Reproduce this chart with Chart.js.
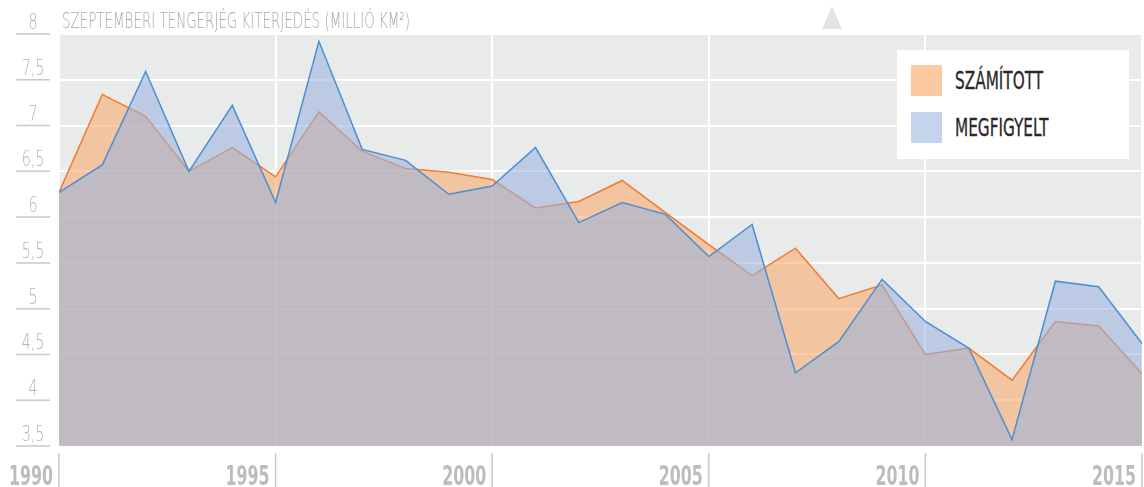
<!DOCTYPE html>
<html>
<head>
<meta charset="utf-8">
<script src="https://cdn.jsdelivr.net/npm/chart.js"></script>
<style>
  html, body { margin: 0; padding: 0; background: #fff; }
  #wrap { position: relative; width: 1144px; height: 487px; }
  #tri { position: absolute; left: 822px; top: 6px; width: 0; height: 0;
         border-left: 10px solid transparent; border-right: 10px solid transparent;
         border-bottom: 23px solid #e1e3e4; }
  #legend { position: absolute; left: 897px; top: 50px; width: 232px; height: 109px; background: #fff; }
  .item { position: absolute; left: 14px; height: 31px; }
  .sw { position: absolute; left: 0; top: 0; width: 31px; height: 31px; }
  .lbl { position: absolute; left: 44px; top: 1px; font-family: "DejaVu Sans Condensed", "DejaVu Sans", sans-serif;
         font-size: 25px; line-height: 30px; color: #2b2728; transform: scaleX(0.68); transform-origin: left center;
         white-space: nowrap; -webkit-text-stroke: 0.3px #2b2728; }
</style>
</head>
<body>
<div id="wrap">
  <canvas id="myChart" width="1144" height="487"></canvas>
  <div id="tri"></div>
  <div id="legend">
    <div class="item" style="top:15px"><div class="sw" style="background:#fccaa2"></div><div class="lbl">SZÁMÍTOTT</div></div>
    <div class="item" style="top:62px"><div class="sw" style="background:#c4d4ec"></div><div class="lbl">MEGFIGYELT</div></div>
  </div>
</div>
<script>
var years = [1990,1991,1992,1993,1994,1995,1996,1997,1998,1999,2000,2001,2002,2003,2004,2005,2006,2007,2008,2009,2010,2011,2012,2013,2014,2015];
var szamitott = [6.27,7.34,7.10,6.50,6.76,6.44,7.15,6.72,6.53,6.49,6.41,6.10,6.17,6.40,6.05,5.70,5.36,5.66,5.11,5.26,4.50,4.57,4.22,4.86,4.81,4.29];
var megfigyelt = [6.27,6.57,7.59,6.50,7.22,6.16,7.92,6.74,6.62,6.25,6.34,6.76,5.94,6.16,6.03,5.57,5.92,4.30,4.64,5.32,4.86,4.57,3.57,5.30,5.24,4.62];
var yTicks = [3.5,4,4.5,5,5.5,6,6.5,7,7.5,8];
var xTicks = [1990,1995,2000,2005,2010,2015];
var title = 'SZEPTEMBERI TENGERJÉG KITERJEDÉS (MILLIÓ KM²)';

function pts(vals) {
  return years.map(function (y, i) { return {x: y, y: vals[i]}; });
}

var COND = '"DejaVu Sans Condensed", "DejaVu Sans", sans-serif';

// grey plot background
var bgPlugin = {
  id: 'bg',
  beforeDraw: function (chart) {
    var a = chart.chartArea, c = chart.ctx;
    c.save();
    c.fillStyle = '#e9ebea';
    c.fillRect(a.left, a.top, a.right - a.left, a.bottom - a.top);
    c.restore();
  }
};

// text squeezed horizontally, anchored at x by align
function squeezed(c, text, x, y, k, align) {
  var w = c.measureText(text).width * k;
  var x0 = align === 'center' ? x - w / 2 : (align === 'right' ? x - w : x);
  c.save();
  c.textAlign = 'left';
  c.translate(x0, y);
  c.scale(k, 1);
  c.fillText(text, 0, 0);
  c.restore();
}

// axis labels, underlines, tick lines and title
var axisPlugin = {
  id: 'axisDeco',
  afterDraw: function (chart) {
    var c = chart.ctx, sx = chart.scales.x, sy = chart.scales.y;
    c.save();
    c.strokeStyle = '#c9c9c9';
    c.lineWidth = 1.5;
    c.fillStyle = '#b3b3b3';
    c.font = '200 21px "DejaVu Sans", sans-serif';
    c.textBaseline = 'alphabetic';
    yTicks.forEach(function (v) {
      var y = sy.getPixelForValue(v);
      c.beginPath(); c.moveTo(16, y); c.lineTo(50, y); c.stroke();
      squeezed(c, String(v).replace('.', ','), 33, y - 5, 0.68, 'center');
    });
    c.font = 'bold 27px ' + COND;
    c.fillStyle = '#babcbf';
    xTicks.forEach(function (v) {
      var x = Math.min(sx.getPixelForValue(v), 1142);
      c.beginPath(); c.moveTo(x, 453); c.lineTo(x, 487); c.stroke();
      var w = c.measureText(String(v)).width;
      squeezed(c, String(v), x - 6, 485, 44 / w, 'right');
    });
    // title squeezed to the width seen in the picture
    c.font = '200 21px "DejaVu Sans", sans-serif';
    c.fillStyle = '#a9a9a9';
    var tw = c.measureText(title).width;
    squeezed(c, title, 62, 28, 348 / tw, 'left');
    c.restore();
  }
};

var ctx = document.getElementById('myChart').getContext('2d');
var chart = new Chart(ctx, {
  type: 'line',
  data: {
    datasets: [{
      label: 'MEGFIGYELT',
      data: pts(megfigyelt),
      borderColor: '#4a8fd2',
      backgroundColor: 'rgba(153,178,221,0.56)',
      borderWidth: 1.5,
      fill: 'start',
      pointRadius: 0,
      tension: 0
    }, {
      label: 'SZÁMÍTOTT',
      data: pts(szamitott),
      borderColor: '#f27a30',
      backgroundColor: 'rgba(249,165,102,0.56)',
      borderWidth: 1.5,
      fill: 'start',
      pointRadius: 0,
      tension: 0
    }]
  },
  options: {
    responsive: false,
    animation: false,
    layout: { padding: { left: 59, top: 34, right: 2, bottom: 41 } },
    plugins: { legend: { display: false }, tooltip: { enabled: false } },
    scales: {
      x: {
        type: 'linear', min: 1990, max: 2015,
        ticks: { display: false, stepSize: 5 },
        grid: { color: '#ffffff', lineWidth: 2, drawTicks: false },
        border: { display: false }
      },
      y: {
        min: 3.5, max: 8,
        ticks: { display: false, stepSize: 0.5 },
        grid: { color: '#ffffff', lineWidth: 2, drawTicks: false },
        border: { display: false }
      }
    }
  },
  plugins: [bgPlugin, axisPlugin]
});
</script>
</body>
</html>
